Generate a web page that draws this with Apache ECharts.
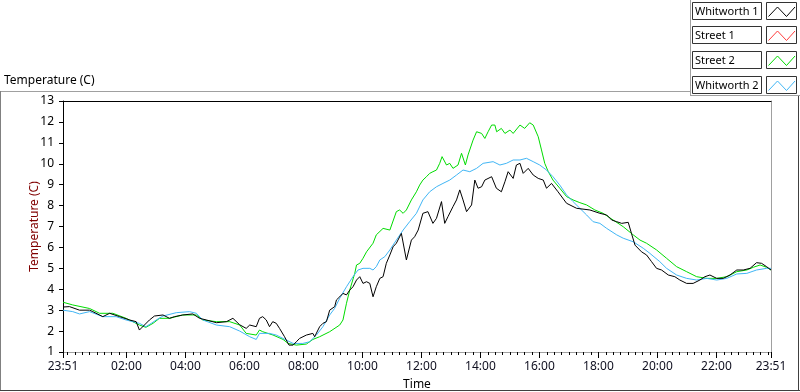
<!DOCTYPE html>
<html><head><meta charset="utf-8">
<script src="https://cdn.jsdelivr.net/npm/echarts@6/dist/echarts.min.js"></script>
<style>html,body{margin:0;padding:0;background:#fff}#c{width:800px;height:392px}</style>
</head><body><div id="c"></div>
<script>
// Time in hours of day (23:51 of the previous day = -0.15), temperature in C
const xTickValues = [-0.15, 2, 4, 6, 8, 10, 12, 14, 16, 18, 20, 22, 23.85];
const xTickLabels = ['23:51', '02:00', '04:00', '06:00', '08:00', '10:00', '12:00', '14:00', '16:00', '18:00', '20:00', '22:00', '23:51'];
const legendNames = ['Whitworth 1', 'Street 1', 'Street 2', 'Whitworth 2'];
const seriesColors = ['#000000', '#ff3c3c', '#00dc00', '#41b6f5'];

const whitworth1 = [
[-0.15,3.15],[0.07,3.17],[0.41,3.0],[0.75,3.0],[0.86,2.93],[1.2,2.69],[1.43,2.85],[1.77,2.69],[2.11,2.53],[2.33,2.45],
[2.44,2.05],[2.61,2.29],[2.78,2.53],[2.95,2.72],[3.24,2.77],[3.46,2.61],[3.63,2.69],[3.91,2.77],[4.25,2.82],[4.48,2.61],
[4.71,2.53],[5.05,2.4],[5.39,2.45],[5.61,2.61],[5.84,2.3],[6.06,2.13],[6.18,2.29],[6.4,2.21],[6.51,2.61],[6.62,2.69],
[6.74,2.53],[6.85,2.21],[6.96,2.45],[7.08,2.37],[7.19,2.13],[7.36,1.73],[7.51,1.33],[7.65,1.33],[7.76,1.49],[7.87,1.65],
[8.1,1.81],[8.32,1.89],[8.38,1.73],[8.55,2.21],[8.66,2.37],[8.78,2.45],[8.89,3.0],[9.06,3.17],[9.12,3.49],[9.23,3.64],
[9.34,3.8],[9.46,3.73],[9.57,3.96],[9.68,4.12],[9.8,4.44],[9.91,4.6],[10.02,4.28],[10.14,4.36],[10.25,4.28],[10.36,3.64],
[10.47,4.12],[10.59,4.52],[10.7,4.6],[10.81,5.24],[10.93,5.64],[11.04,6.03],[11.15,6.2],[11.32,6.67],[11.49,5.4],[11.66,6.35],
[11.77,6.51],[11.89,6.83],[12.05,7.63],[12.22,7.71],[12.39,7.15],[12.51,7.39],[12.68,8.19],[12.79,7.15],[12.9,7.47],[13.07,7.95],
[13.19,8.27],[13.3,8.75],[13.41,8.27],[13.53,7.71],[13.7,8.03],[13.81,9.22],[13.92,8.83],[14.04,8.9],[14.15,9.22],[14.38,9.38],
[14.54,8.83],[14.71,8.66],[14.83,9.14],[14.94,9.62],[15.11,9.3],[15.22,9.94],[15.34,10.02],[15.45,9.54],[15.62,9.78],[15.79,9.46],
[15.96,9.3],[16.13,9.22],[16.24,8.83],[16.41,9.06],[16.63,8.66],[16.92,8.11],[17.26,7.87],[17.71,7.79],[18.05,7.63],[18.28,7.55],
[18.45,7.31],[18.62,7.23],[18.79,7.15],[19.01,7.2],[19.12,6.67],[19.24,6.11],[19.46,5.79],[19.63,5.64],[19.8,5.32],[19.97,5.0],
[20.14,4.92],[20.37,4.68],[20.59,4.6],[20.76,4.44],[20.99,4.28],[21.21,4.28],[21.44,4.44],[21.61,4.6],[21.78,4.68],[22.01,4.52],
[22.23,4.52],[22.46,4.68],[22.69,4.92],[22.91,4.92],[23.14,5.0],[23.36,5.27],[23.53,5.24],[23.7,5.08],[23.85,4.92]
];

const street1 = [];

const street2 = [
[-0.15,3.38],[0.18,3.25],[0.75,3.08],[1.09,2.85],[1.54,2.85],[1.99,2.61],[2.44,2.29],[2.66,2.18],[2.9,2.37],[3.12,2.61],
[3.46,2.61],[3.91,2.77],[4.37,2.77],[4.59,2.53],[5.05,2.45],[5.5,2.45],[5.84,2.29],[6.06,1.89],[6.4,1.81],[6.51,2.05],
[6.62,1.97],[6.97,1.81],[7.31,1.6],[7.48,1.41],[7.76,1.33],[8.1,1.38],[8.32,1.6],[8.55,1.73],[8.89,1.97],[9.23,2.29],
[9.34,2.53],[9.46,3.33],[9.57,3.96],[9.74,4.76],[9.8,5.16],[9.91,5.24],[10.02,5.48],[10.14,5.79],[10.36,6.2],[10.47,6.6],
[10.7,6.91],[10.93,6.83],[11.15,7.71],[11.26,7.79],[11.38,7.63],[11.49,7.79],[11.66,8.27],[11.83,8.66],[11.94,8.98],[12.05,9.22],
[12.17,9.38],[12.28,9.54],[12.39,9.62],[12.51,9.7],[12.62,10.02],[12.7,10.34],[12.85,9.94],[12.96,10.02],[13.07,9.78],[13.24,9.94],
[13.36,10.5],[13.41,10.58],[13.49,9.94],[13.58,10.42],[13.75,11.13],[13.87,11.53],[14.04,11.45],[14.15,11.21],[14.26,11.53],[14.38,11.85],
[14.49,11.85],[14.55,11.53],[14.71,11.69],[14.83,11.45],[15.0,11.61],[15.11,11.45],[15.34,11.85],[15.5,11.69],[15.67,11.96],[15.79,11.85],
[15.96,11.29],[16.07,10.66],[16.18,10.02],[16.3,9.62],[16.46,9.22],[16.69,8.83],[16.92,8.43],[17.14,8.27],[17.37,8.14],[17.6,8.03],
[17.88,7.79],[18.16,7.63],[18.5,7.31],[18.84,6.99],[19.18,6.6],[19.41,6.35],[19.63,6.2],[19.97,5.88],[20.31,5.48],[20.65,5.08],
[20.99,4.84],[21.33,4.6],[21.67,4.52],[22.01,4.52],[22.35,4.6],[22.69,4.84],[23.03,4.92],[23.25,5.05],[23.48,5.16],[23.7,5.05],
[23.85,4.92]
];

const whitworth2 = [
[-0.15,3.0],[0.18,2.93],[0.41,2.82],[0.75,2.93],[1.2,2.69],[1.65,2.69],[1.99,2.53],[2.44,2.37],[2.66,2.21],[2.84,2.37],
[3.01,2.53],[3.24,2.72],[3.69,2.88],[4.14,2.93],[4.37,2.85],[4.59,2.53],[5.05,2.29],[5.5,2.21],[5.84,2.0],[6.18,1.73],
[6.4,1.6],[6.51,1.89],[6.85,1.89],[7.08,1.81],[7.42,1.57],[7.65,1.41],[7.98,1.41],[8.21,1.49],[8.44,1.81],[8.66,2.21],
[8.89,2.77],[9.06,3.09],[9.23,3.57],[9.46,4.12],[9.68,4.6],[9.85,4.92],[10.02,5.0],[10.25,5.0],[10.36,4.92],[10.47,5.08],
[10.59,5.4],[10.76,5.56],[10.93,5.88],[11.15,6.35],[11.38,6.83],[11.6,7.23],[11.83,7.63],[12.05,8.27],[12.28,8.66],[12.51,8.9],
[12.73,9.06],[12.96,9.22],[13.19,9.46],[13.41,9.7],[13.64,9.62],[13.87,9.78],[14.09,10.02],[14.43,10.1],[14.66,9.94],[14.88,10.02],
[15.11,10.18],[15.34,10.18],[15.56,10.26],[15.79,10.1],[16.01,9.94],[16.24,9.7],[16.46,9.38],[16.69,8.98],[16.92,8.51],[17.14,8.19],
[17.37,7.87],[17.6,7.55],[17.82,7.23],[18.05,7.15],[18.28,6.91],[18.62,6.6],[18.84,6.44],[19.18,6.27],[19.52,5.96],[19.74,5.72],
[20.08,5.32],[20.31,5.0],[20.65,4.68],[20.99,4.52],[21.33,4.44],[21.67,4.52],[22.01,4.44],[22.35,4.52],[22.69,4.73],[23.03,4.76],
[23.36,4.92],[23.7,5.0],[23.85,5.0]
];

const FONT = 'Noto Sans';
const X_MIN = -0.15, X_MAX = 23.85;

// minor ticks every 15 minutes (not on labelled hours)
const minorTicks = [];
for (let m = 0; m <= 1425; m += 15) {
  if (m === 0 || m % 120 !== 0) minorTicks.push(m / 60);
}

function labelFor(v) {
  for (let i = 0; i < xTickValues.length; i++) {
    if (Math.abs(v - xTickValues[i]) < 1e-6) return xTickLabels[i];
  }
  return '';
}

const chart = echarts.init(document.getElementById('c'), null, { renderer: 'canvas' });

const graphics = [
  { type: 'line', shape: { x1: 0, y1: 91.5, x2: 690, y2: 91.5 }, style: { stroke: '#a0a0a0', lineWidth: 1 } },
  { type: 'line', shape: { x1: 0.5, y1: 91, x2: 0.5, y2: 391 }, style: { stroke: '#808080', lineWidth: 1 } },
  { type: 'line', shape: { x1: 0, y1: 390.5, x2: 800, y2: 390.5 }, style: { stroke: '#404040', lineWidth: 1 } },
  { type: 'line', shape: { x1: 798.5, y1: 95, x2: 798.5, y2: 391 }, style: { stroke: '#404040', lineWidth: 1 } },
  { type: 'line', shape: { x1: 690.5, y1: 0, x2: 690.5, y2: 95 }, style: { stroke: '#a0a0a0', lineWidth: 1 } },
  { type: 'line', shape: { x1: 690, y1: 95.5, x2: 800, y2: 95.5 }, style: { stroke: '#a0a0a0', lineWidth: 1 } }
];
legendNames.forEach(function (name, i) {
  const y0 = Math.round(1.5 + i * 24.8) + 0.5;
  graphics.push({ type: 'rect', shape: { x: 692.5, y: y0, width: 69, height: 17 }, style: { fill: '#fff', stroke: '#333', lineWidth: 1 } });
  graphics.push({ type: 'text', x: 695, y: y0 + 9, style: { text: name, fill: '#000', font: '11px "' + FONT + '"', verticalAlign: 'middle', align: 'left' } });
  graphics.push({ type: 'rect', shape: { x: 766.5, y: y0, width: 30, height: 17 }, style: { fill: '#fff', stroke: '#333', lineWidth: 1 } });
  graphics.push({ type: 'polyline', shape: { points: [[768.5, y0 + 14], [777.5, y0 + 4.5], [786.5, y0 + 14], [795, y0 + 4.5]] }, style: { stroke: seriesColors[i], lineWidth: 1, fill: null } });
});

const gridBox = { left: 63, right: 29, top: 101, bottom: 40, containLabel: false, outerBoundsMode: 'none' };

const option = {
  animation: false,
  backgroundColor: '#ffffff',
  title: {
    text: 'Temperature (C)', left: 4, top: 75, padding: 0,
    textStyle: { fontFamily: FONT, fontSize: 12, fontWeight: 'normal', color: '#000' }
  },
  grid: [Object.assign({}, gridBox), Object.assign({}, gridBox)],
  xAxis: [
    {
      type: 'value', gridIndex: 0, min: X_MIN, max: X_MAX, position: 'bottom',
      name: 'Time', nameLocation: 'middle', nameGap: 27, nameMoveOverlap: false,
      nameTextStyle: { fontFamily: FONT, fontSize: 12, color: '#000' },
      axisLine: { show: true, onZero: false, lineStyle: { color: '#a0a0a0', width: 1 } },
      axisTick: { show: true, customValues: xTickValues, length: 6, lineStyle: { color: '#000' } },
      axisLabel: { show: true, customValues: xTickValues, formatter: labelFor, margin: 9, fontFamily: FONT, fontSize: 12, color: '#101020' },
      splitLine: { show: false }
    },
    {
      type: 'value', gridIndex: 0, min: X_MIN, max: X_MAX, position: 'top',
      axisLine: { show: true, onZero: false, lineStyle: { color: '#000', width: 1 } },
      axisTick: { show: false }, axisLabel: { show: false }, splitLine: { show: false }
    },
    {
      type: 'value', gridIndex: 1, min: X_MIN, max: X_MAX, position: 'bottom',
      axisLine: { show: false, onZero: false },
      axisTick: { show: true, customValues: minorTicks, length: 3, lineStyle: { color: '#000' } },
      axisLabel: { show: false },
      splitLine: { show: false }
    }
  ],
  yAxis: [
    {
      type: 'value', gridIndex: 0, min: 1, max: 13, interval: 1, position: 'left',
      name: 'Temperature (C)', nameLocation: 'middle', nameGap: 22, nameMoveOverlap: false,
      nameTextStyle: { fontFamily: FONT, fontSize: 12, color: '#800000' },
      axisLine: { show: true, onZero: false, lineStyle: { color: '#000', width: 1 } },
      axisTick: { show: true, length: 4, lineStyle: { color: '#000' } },
      axisLabel: { margin: 9, fontFamily: FONT, fontSize: 12, color: '#000' },
      splitLine: { show: false }
    },
    {
      type: 'value', gridIndex: 0, min: 1, max: 13, interval: 1, position: 'right',
      axisLine: { show: true, onZero: false, lineStyle: { color: '#a0a0a0', width: 1 } },
      axisTick: { show: false }, axisLabel: { show: false }, splitLine: { show: false }
    },
    {
      type: 'value', gridIndex: 1, min: 1, max: 13, interval: 1, show: false
    }
  ],
  series: [
    { name: 'Street 1', type: 'line', xAxisIndex: 0, yAxisIndex: 0, data: street1, showSymbol: false, lineStyle: { width: 1, color: seriesColors[1] }, itemStyle: { color: seriesColors[1] } },
    { name: 'Street 2', type: 'line', xAxisIndex: 0, yAxisIndex: 0, data: street2, showSymbol: false, lineStyle: { width: 1, color: seriesColors[2] }, itemStyle: { color: seriesColors[2] } },
    { name: 'Whitworth 2', type: 'line', xAxisIndex: 0, yAxisIndex: 0, data: whitworth2, showSymbol: false, lineStyle: { width: 1, color: seriesColors[3] }, itemStyle: { color: seriesColors[3] } },
    { name: 'Whitworth 1', type: 'line', xAxisIndex: 0, yAxisIndex: 0, data: whitworth1, showSymbol: false, lineStyle: { width: 1, color: seriesColors[0] }, itemStyle: { color: seriesColors[0] } }
  ],
  graphic: graphics
};
chart.setOption(option);
</script>
</body></html>
